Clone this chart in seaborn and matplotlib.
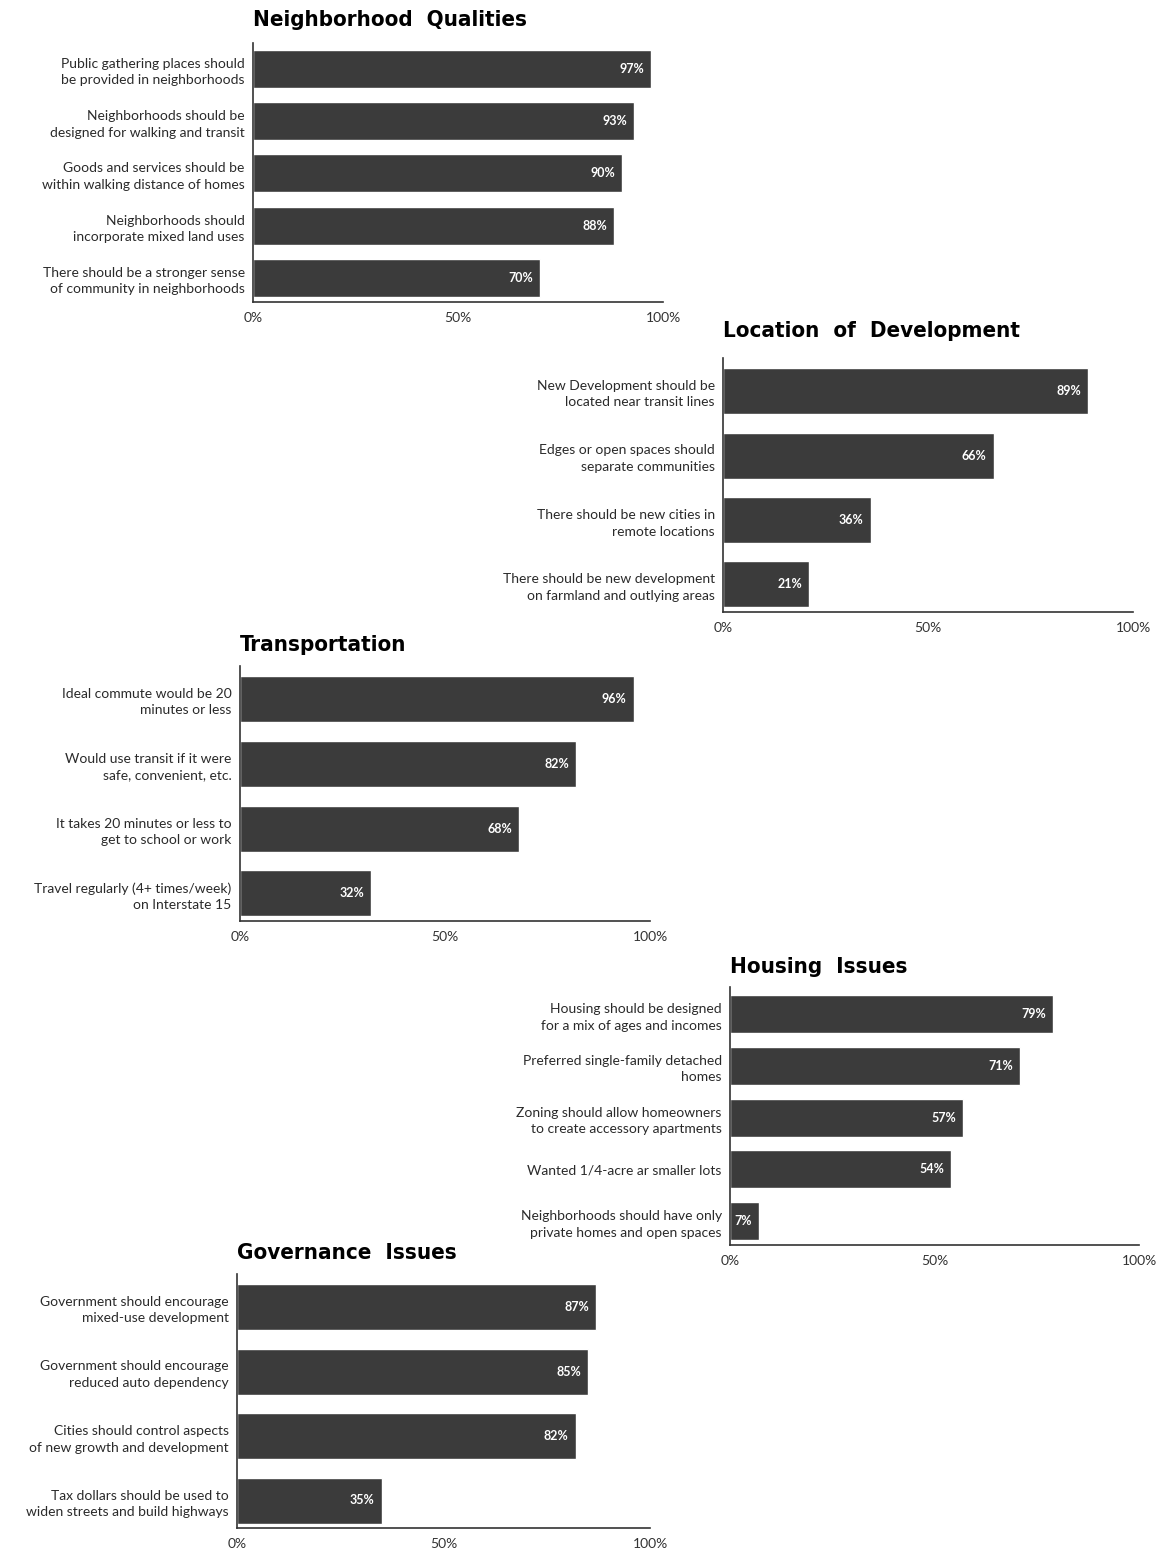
import matplotlib
matplotlib.use("Agg")
import matplotlib.pyplot as plt
import seaborn as sns

sns.set_style("white")
plt.rcParams['font.family'] = ['Lato', 'DejaVu Sans']

# Neighborhood Qualities
nq_labels = ["Public gathering places should\nbe provided in neighborhoods",
             "Neighborhoods should be\ndesigned for walking and transit",
             "Goods and services should be\nwithin walking distance of homes",
             "Neighborhoods should\nincorporate mixed land uses",
             "There should be a stronger sense\nof community in neighborhoods"]
nq_values = [97, 93, 90, 88, 70]

# Location of Development
ld_labels = ["New Development should be\nlocated near transit lines",
             "Edges or open spaces should\nseparate communities",
             "There should be new cities in\nremote locations",
             "There should be new development\non farmland and outlying areas"]
ld_values = [89, 66, 36, 21]

# Transportation
tr_labels = ["Ideal commute would be 20\nminutes or less",
             "Would use transit if it were\nsafe, convenient, etc.",
             "It takes 20 minutes or less to\nget to school or work",
             "Travel regularly (4+ times/week)\non Interstate 15"]
tr_values = [96, 82, 68, 32]

# Housing Issues
hi_labels = ["Housing should be designed\nfor a mix of ages and incomes",
             "Preferred single-family detached\nhomes",
             "Zoning should allow homeowners\nto create accessory apartments",
             "Wanted 1/4-acre ar smaller lots",
             "Neighborhoods should have only\nprivate homes and open spaces"]
hi_values = [79, 71, 57, 54, 7]

# Governance Issues
gi_labels = ["Government should encourage\nmixed-use development",
             "Government should encourage\nreduced auto dependency",
             "Cities should control aspects\nof new growth and development",
             "Tax dollars should be used to\nwiden streets and build highways"]
gi_values = [87, 85, 82, 35]

ticks = [0, 50, 100]
tick_labels = ["0%", "50%", "100%"]

W, H = 1162, 1552
fig = plt.figure(figsize=(W / 100, H / 100), dpi=100)
bar_color = "#3b3b3b"

# title, labels, values, x_left, x_right, y_top, y_axis, first bar centre, spacing, bar height, title y
panels = [
    ("Neighborhood  Qualities", nq_labels, nq_values, 253, 663, 43, 302, 69, 52.2, 38, 20),
    ("Location  of  Development", ld_labels, ld_values, 723, 1133, 358, 612, 391, 64.5, 46, 331),
    ("Transportation", tr_labels, tr_values, 240, 650, 666, 921, 699, 64.8, 46, 645),
    ("Housing  Issues", hi_labels, hi_values, 730, 1139, 987, 1245, 1014, 51.8, 38, 967),
    ("Governance  Issues", gi_labels, gi_values, 237, 650, 1274, 1528, 1307, 64.5, 46, 1253),
]

for title, labels, values, xl, xr, yt, ya, c0, s, h, ty in panels:
    ax = fig.add_axes([xl / W, 1 - ya / H, (xr - xl) / W, (ya - yt) / H])
    sns.barplot(x=values, y=labels, orient="h", color=bar_color, saturation=1,
                width=h / s, ax=ax)
    ax.set_xlim(0, 100)
    ax.set_ylim((ya - c0) / s, (yt - c0) / s)
    ax.set_xticks(ticks)
    ax.set_xticklabels(tick_labels, fontsize=10, color="#333333")
    ax.tick_params(axis="x", direction="in", length=5, width=1.1, color="#333333", pad=7)
    ax.tick_params(axis="y", length=0, pad=6)
    for lab in ax.get_yticklabels():
        lab.set_fontsize(10)
        lab.set_color("#2a2a2a")
        lab.set_linespacing(1.45)
        lab.set_ha("right")
    ax.set_xlabel("")
    ax.set_ylabel("")
    sns.despine(ax=ax, top=True, right=True)
    for side in ["left", "bottom"]:
        ax.spines[side].set_color("#333333")
        ax.spines[side].set_linewidth(1.2)
    for i, v in enumerate(values):
        ax.annotate(f"{v}%", (v, i), xytext=(-5, 0), textcoords="offset points",
                    ha="right", va="center", color="white", fontsize=9, fontweight="bold")
    fig.text(xl / W, 1 - ty / H, title, ha="left", va="center", fontsize=16,
             fontweight="bold", fontstretch="condensed", color="black",
             family=["DejaVu Sans"])

fig.savefig("out.png", dpi=100, facecolor="white")
